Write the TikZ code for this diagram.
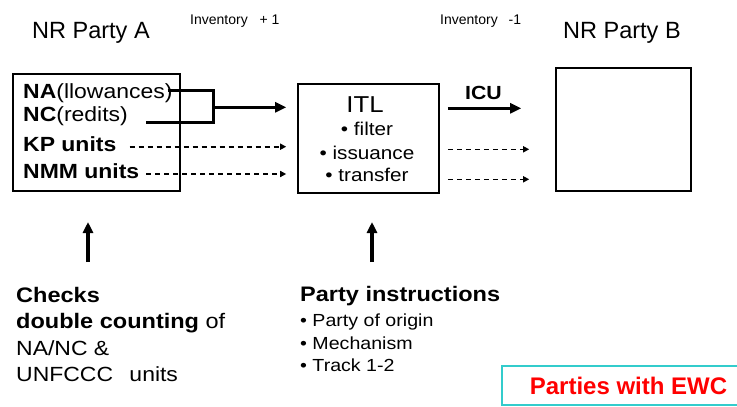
\documentclass[tikz,border=0pt]{standalone}
\usepackage{fontspec}
\setmainfont{Liberation Sans}
\newfontfamily\widefont{Liberation Sans}[FakeStretch=1.12]
\usetikzlibrary{arrows.meta}
\definecolor{ewcteal}{RGB}{51,204,204}
\definecolor{ewcred}{RGB}{255,0,0}

\begin{document}
\begin{tikzpicture}[x=1pt,y=-1pt,
    box/.style={draw,line width=1.6pt,inner sep=0pt},
    txt/.style={inner sep=0pt,anchor=base west},
    title/.style={txt,font=\fontsize{23.5}{26}\selectfont},
    inv/.style={txt,font=\fontsize{14}{16}\selectfont},
    rowtxt/.style={txt,font=\widefont\fontsize{20.5}{24}\selectfont},
    itltxt/.style={inner sep=0pt,anchor=base,font=\widefont\fontsize{18.5}{22}\selectfont},
    btmtxt/.style={txt,font=\widefont\fontsize{21}{24}\selectfont},
    itemtxt/.style={txt,font=\widefont\fontsize{17.5}{20}\selectfont},
    joinline/.style={line width=3pt},
    bigarrow/.style={line width=3pt,-{Triangle[length=11pt,width=10pt]}},
    flowdash/.style={line width=1.6pt,dash pattern=on 5pt off 4pt,-{Triangle[length=6pt,width=6pt]}},
    uparrow/.style={line width=3.2pt,-{Triangle[length=11pt,width=10pt]}}]
  \useasboundingbox (0,0) rectangle (737,407);

  \node[title] (titleA) at (32,38.3) {NR Party A};
  \node[title] (titleB) at (563,38) {NR Party B};
  \node[inv] (invA) at (190,24) {Inventory\hspace{8pt} + 1};
  \node[inv] (invB) at (440,24) {Inventory\hspace{7pt} -1};

  \node[box,minimum width=167pt,minimum height=117pt] (partyA) at (96.5,132.5) {};
  \node[box,minimum width=141pt,minimum height=109pt] (itl) at (368.5,138.5) {};
  \node[box,minimum width=135pt,minimum height=123pt] (partyB) at (623.5,129.5) {};

  \node[rowtxt] (na) at (23,98.5) {\textbf{NA}(llowances)};
  \node[rowtxt] (nc) at (23,121) {\textbf{NC}(redits)};
  \node[rowtxt] (kp) at (23,151.7) {\textbf{KP units}};
  \node[rowtxt] (nmm) at (23,178.3) {\textbf{NMM units}};

  \node[itltxt,font=\widefont\fontsize{23}{26}\selectfont] (itlT) at (365,112) {ITL};
  \node[itltxt] (filter) at (367,135) {• filter};
  \node[itltxt] (issuance) at (367,159) {• issuance};
  \node[itltxt] (transfer) at (367,181.5) {• transfer};
  \node[itltxt,font=\widefont\bfseries\fontsize{19}{22}\selectfont] (icu) at (483.5,99) {ICU};

  % joined NA/NC flow
  \coordinate (join) at (213,107.3);
  \draw[joinline] ([shift={(-5,-7.8)}]na.base east) -| (join) |- ([shift={(18,1.3)}]nc.base east);
  \draw[bigarrow,shorten >=11pt] (join) -- (join -| itl.west);
  \coordinate (kpS) at ([shift={(13,-5)}]kp.base east);
  \coordinate (nmmS) at ([shift={(7,-4.3)}]nmm.base east);
  \draw[flowdash,shorten >=11pt] (kpS) -- (kpS -| itl.west);
  \draw[flowdash,shorten >=11pt] (nmmS) -- (nmmS -| itl.west);

  \coordinate (icuS) at ([shift={(8,-30.2)}]itl.east);
  \coordinate (outS) at ([shift={(8,10.8)}]itl.east);
  \coordinate (out2S) at ([shift={(8,40.8)}]itl.east);
  \draw[bigarrow,shorten >=34pt] (icuS) -- (icuS -| partyB.west);
  \draw[flowdash,shorten >=26pt] (outS) -- (outS -| partyB.west);
  \draw[flowdash,shorten >=26pt] (out2S) -- (out2S -| partyB.west);

  \node[btmtxt] (chk1) at (16,302.5) {\textbf{Checks}};
  \node[btmtxt] (chk2) at (16,328.5) {\textbf{double counting} of};
  \node[btmtxt,font=\widefont\fontsize{20.5}{24}\selectfont] (chk3) at (16,355) {NA/NC \&};
  \node[btmtxt,font=\widefont\fontsize{20.5}{24}\selectfont] (chk4) at (16,381.7) {UNFCCC\hspace{10pt} units};
  \coordinate (chkFoot) at (88,262);
  \coordinate (chkHead) at (88,222);
  \draw[uparrow] (chkFoot) -- (chkHead);

  \node[btmtxt] (pi) at (300,301.7) {\textbf{Party instructions}};
  \node[itemtxt] (origin) at (300,326.5) {• Party of origin};
  \node[itemtxt] (mech) at (300,349.3) {• Mechanism};
  \node[itemtxt] (track) at (300,371.7) {• Track 1-2};
  \coordinate (piFoot) at (372,262);
  \coordinate (piHead) at (372,222);
  \draw[uparrow] (piFoot) -- (piHead);

  \node[draw=ewcteal,line width=2pt,minimum width=253pt,minimum height=39pt,inner sep=0pt,
        text=ewcred,font=\bfseries\fontsize{24}{26}\selectfont] (ewc) at (628.5,385.5) {Parties with EWC};
\end{tikzpicture}
\end{document}
